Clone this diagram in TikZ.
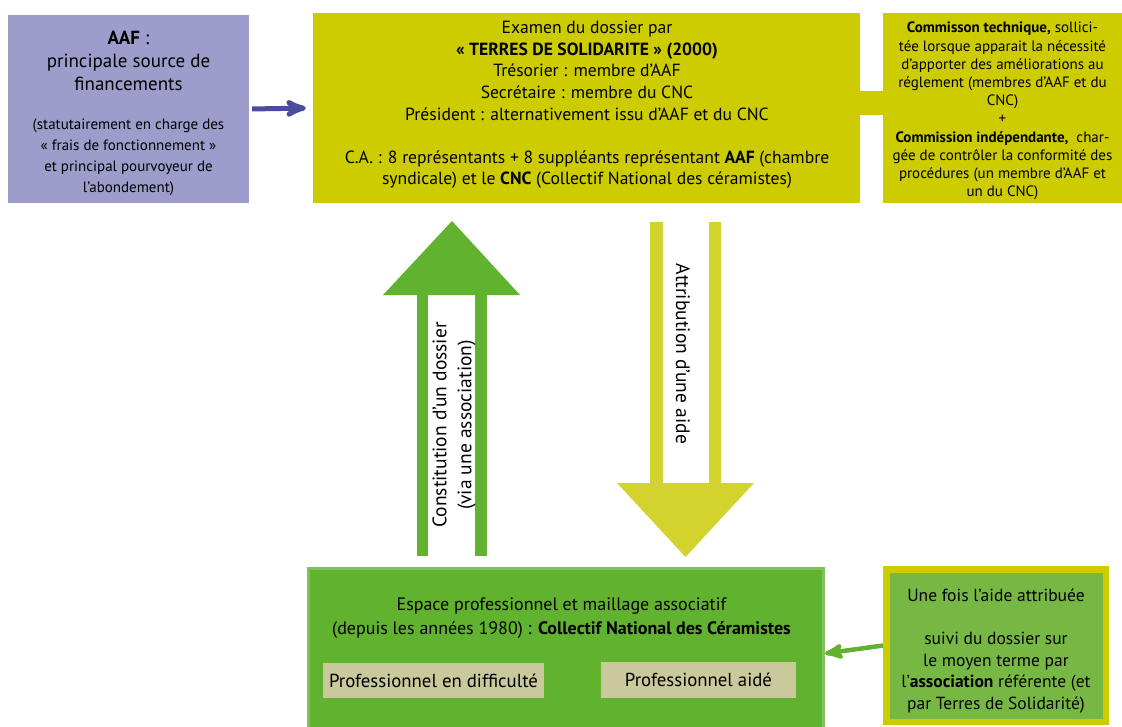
\documentclass[tikz,border=0pt]{standalone}
\usepackage{fontspec}
\setmainfont{PT Sans}
\usetikzlibrary{arrows, positioning}

\definecolor{lavande}{HTML}{9D9DCB}
\definecolor{bleuaaf}{HTML}{4B4C9E}
\definecolor{olive}{HTML}{CCCC00}
\definecolor{jaune}{HTML}{D3D32E}
\definecolor{vert}{HTML}{60B22F}
\definecolor{vertclair}{HTML}{80C25A}
\definecolor{vertsuivi}{HTML}{77B845}
\definecolor{beige}{HTML}{C9C99B}

\begin{document}
\begin{tikzpicture}[x=1pt, y=-1pt, >=stealth',
  boite/.style={rectangle, inner sep=0pt},
  texte/.style={align=center, inner sep=0pt, text=black},
  etiquette/.style={rectangle, fill=beige, inner sep=0pt, font=\fontsize{18.8}{20}\selectfont}]

\useasboundingbox (0,0) rectangle (1122,726);

%\draw[step=50, gray!40] (0,0) grid (1122,726);

% haut : AAF, Terres de Solidarite, commissions
\node[boite, fill=lavande, minimum width=241pt, minimum height=188pt] (aaf) at (128.5,109) {};
\node[texte, font=\fontsize{19}{23}\selectfont] (aaftitre) at (128.5,61)
  {\textbf{AAF} :\\principale source de\\financements};
\node[texte, font=\fontsize{15}{21}\selectfont] (aafnote) at (128.5,157)
  {(statutairement en charge des\\« frais de fonctionnement »\\et principal pourvoyeur de\\l’abondement)};

\node[boite, fill=olive, minimum width=547pt, minimum height=190pt] (ts) at (586.5,108) {};
\node[texte, font=\fontsize{17.6}{21.6}\selectfont] (tstexte) at (587,105)
  {Examen du dossier par\\
   {\bfseries\fontsize{17.6}{21.6}\selectfont « TERRES DE SOLIDARITE » (2000)}\\
   Trésorier : membre d’AAF\\
   Secrétaire : membre du CNC\\
   Président : alternativement issu d’AAF et du CNC\\[21.6pt]
   C.A. : 8 représentants + 8 suppléants représentant \textbf{AAF} (chambre\\
   syndicale) et le \textbf{CNC} (Collectif National des céramistes)};

\node[boite, fill=olive, minimum width=239pt, minimum height=190pt] (comm) at (1002.5,108) {};
\node[texte, font=\fontsize{15}{18.2}\selectfont] (commtexte) at (1002.5,111)
  {\textbf{Commisson technique,} sollici-\\
   tée lorsque apparait la nécessité\\
   d’apporter des améliorations au\\
   réglement (membres d’AAF et du\\
   CNC)\\
   +\\
   \textbf{Commission indépendante,}\ \ char-\\
   gée de contrôler la conformité des\\
   procédures (un membre d’AAF et\\
   un du CNC)};

\fill[olive] ([yshift=17pt]ts.east) rectangle ([yshift=-7pt]comm.west);
\draw[bleuaaf, line width=5pt, ->, shorten <=3pt, shorten >=7pt] (aaf.east) -- (ts.west);

% fleches centrales
\fill[vert] (417,556) rectangle (428,295);
\fill[vert] (475,556) rectangle (487,295);
\fill[vert] (383,295) -- (452,221) -- (520,295) -- cycle;
\node[texte, rotate=90, font=\fontsize{19.5}{25}\selectfont] (constitution) at (454,425)
  {Constitution d’un dossier\\(via une association)};

\fill[jaune] (650,222) rectangle (663,483);
\fill[jaune] (709,222) rectangle (721,483);
\fill[jaune] (617,483) -- (685.5,557) -- (754,483) -- cycle;
\node[texte, rotate=-90, font=\fontsize{19.5}{24}\selectfont] (attribution) at (683,354)
  {Attribution d’une aide};

% bas : CNC et suivi
\node[boite, fill=vert, draw=vertclair, line width=3pt, minimum width=515pt, minimum height=170pt] (cnc) at (566,653.5) {};
\node[texte, font=\fontsize{18}{24}\selectfont] (cnctexte) at (561.5,618)
  {Espace professionnel et maillage associatif\\
   (depuis les années 1980) : \textbf{Collectif National des Céramistes}};
\node[etiquette, minimum width=221pt, minimum height=35pt] (difficulte) at (433.5,680.5) {Professionnel en difficulté};
\node[etiquette, minimum width=195pt, minimum height=36pt] (aide) at (698.5,680) {Professionnel aidé};

\node[boite, fill=vertsuivi, draw=olive, line width=6.5pt, minimum width=219.5pt, minimum height=152.5pt] (suivi) at (996,645.5) {};
\node[texte, font=\fontsize{17.5}{21.6}\selectfont] (suivitexte) at (996,651)
  {Une fois l’aide attribuée\\[21.6pt]
   suivi du dossier sur\\
   le moyen terme par\\
   l’\textbf{association} référente (et\\
   par Terres de Solidarité)};

\draw[vert, line width=4.5pt, ->] (suivi.west) -- (cnc.east);

\end{tikzpicture}
\end{document}
